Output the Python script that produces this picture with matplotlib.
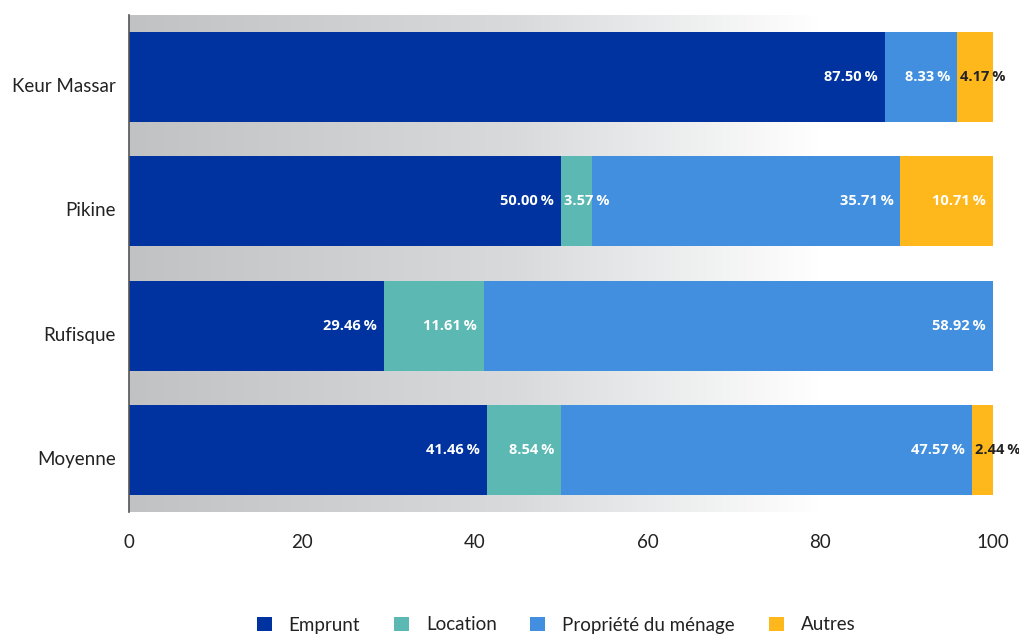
import numpy as np
import matplotlib
matplotlib.use("Agg")
import matplotlib.pyplot as plt
from matplotlib.colors import LinearSegmentedColormap
from matplotlib.patches import Patch
from matplotlib.transforms import ScaledTranslation, blended_transform_factory

categories = ["Keur Massar", "Pikine", "Rufisque", "Moyenne"]
series_names = ["Emprunt", "Location", "Propriété du ménage", "Autres"]
emprunt = [87.50, 50.00, 29.46, 41.46]
location = [0.00, 3.57, 11.61, 8.54]
propriete = [8.33, 35.71, 58.92, 47.57]
autres = [4.17, 10.71, 0.00, 2.44]
xticks = [0, 20, 40, 60, 80, 100]

colors = ["#0033a0", "#5cb8b2", "#418fde", "#ffb81c"]
series = [emprunt, location, propriete, autres]

plt.rcParams["font.family"] = ["Lato", "DejaVu Sans"]

fig = plt.figure(figsize=(10.19, 6.34), dpi=100)
ax = fig.add_axes([129 / 1019, 1 - 512 / 634, (993 - 129) / 1019, (512 - 15) / 634])

ypos = np.arange(len(categories))
ax.set_ylim(len(categories) - 0.5, -0.5)
ax.set_xlim(0, 100)

# horizontal grey-to-white gradient behind the bars
cmap = LinearSegmentedColormap.from_list(
    "bg", [(0.0, "#c1c2c4"), (0.45, "#d9dadc"), (0.8, "#ffffff"), (1.0, "#ffffff")])
grad = np.linspace(0, 1, 512).reshape(1, -1)
ax.imshow(grad, cmap=cmap, aspect="auto", extent=(0, 100, len(categories) - 0.5, -0.5),
          zorder=0, interpolation="bilinear")

label_font = ["Open Sans", "DejaVu Sans"]
left = np.zeros(len(categories))
for name, vals, col in zip(series_names, series, colors):
    vals = np.array(vals)
    ax.barh(ypos, vals, left=left, height=0.725, color=col, zorder=2, label=name)
    for i, v in enumerate(vals):
        if v <= 0:
            continue
        txt = f"{v:.2f}\u2009%"
        small = v < 6
        tcol = "#222222" if (name == "Autres" and small) else "white"
        if small:
            ax.text(left[i] + 0.4, ypos[i], txt, ha="left", va="center",
                    color=tcol, fontsize=10.5, fontweight="bold",
                    family=label_font, zorder=3)
        else:
            ax.text(left[i] + v - 0.8, ypos[i], txt, ha="right", va="center",
                    color=tcol, fontsize=10.5, fontweight="bold",
                    family=label_font, zorder=3)
    left = left + vals

# category labels sit slightly below the bar centre
ax.set_yticks(ypos)
ax.set_yticklabels([])
ytrans = blended_transform_factory(ax.transAxes, ax.transData) + \
    ScaledTranslation(-13 / 100, -8 / 100, fig.dpi_scale_trans)
for y, cat in zip(ypos, categories):
    ax.text(0, y, cat, transform=ytrans, ha="right", va="center_baseline",
            fontsize=13.5, color="#222222")

ax.set_xticks(xticks)
ax.set_xticklabels([str(t) for t in xticks], fontsize=13.5, color="#222222")
ax.tick_params(axis="both", length=0)
ax.tick_params(axis="x", pad=16)

for s in ["top", "right", "bottom"]:
    ax.spines[s].set_visible(False)
ax.spines["left"].set_color("#555555")
ax.spines["left"].set_linewidth(1.2)
ax.spines["left"].set_zorder(4)

handles = [Patch(facecolor=c, edgecolor="none") for c in colors]
fig.legend(handles, series_names, loc="center", bbox_to_anchor=(556 / 1019, 1 - 625 / 634),
           ncol=4, frameon=False, fontsize=13.5, handlelength=0.8, handleheight=0.8,
           handletextpad=0.9, columnspacing=1.8, labelcolor="#222222")

fig.savefig("out.png", dpi=100)
